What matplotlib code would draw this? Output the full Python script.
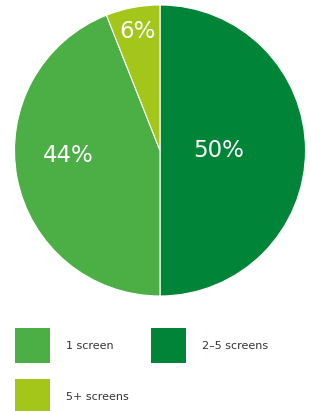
import matplotlib.pyplot as plt
from matplotlib.patches import Rectangle

# data, clockwise from 12 o'clock
labels = ['2–5 screens', '1 screen', '5+ screens']
shares = [50, 44, 6]
colors = ['#008538', '#4caf45', '#a4c61a']

# legend order as in the picture (row by row)
legend_order = ['1 screen', '2–5 screens', '5+ screens']

W, H = 311, 411
fig = plt.figure(figsize=(W / 100, H / 100), dpi=100)

# pie sits in a square box, pixel coords of the box
cx, cy, r = 160, 150.5, 145.5
ax = fig.add_axes([(cx - r) / W, (H - cy - r) / H, 2 * r / W, 2 * r / H])
wedges, _ = ax.pie(shares, colors=colors, startangle=90, counterclock=False,
                   radius=1, wedgeprops=dict(edgecolor='white', linewidth=0.8))
ax.set_xlim(-1, 1)
ax.set_ylim(-1, 1)
ax.set_aspect('equal')
ax.axis('off')

# where the percentage labels go (pie units)
label_xy = [(0.40, 0.0), (-0.632, -0.034), (-0.151, 0.821)]
for v, (x, y) in zip(shares, label_xy):
    ax.text(x, y, f'{v}%', color='white', fontsize=16.5, ha='center', va='center')

# legend drawn by hand in pixel space
lax = fig.add_axes([0, 0, 1, 1])
lax.set_xlim(0, W)
lax.set_ylim(H, 0)
lax.axis('off')
slots = [(15, 328), (151, 328), (15, 379)]
for name, (x, y) in zip(legend_order, slots):
    c = colors[labels.index(name)]
    lax.add_patch(Rectangle((x, y), 35, 35, facecolor=c, edgecolor='none'))
    lax.text(x + 51, y + 17.5, name, fontsize=8, color='#333333', va='center', ha='left')

fig.savefig('out.png', dpi=100)
plt.close(fig)
